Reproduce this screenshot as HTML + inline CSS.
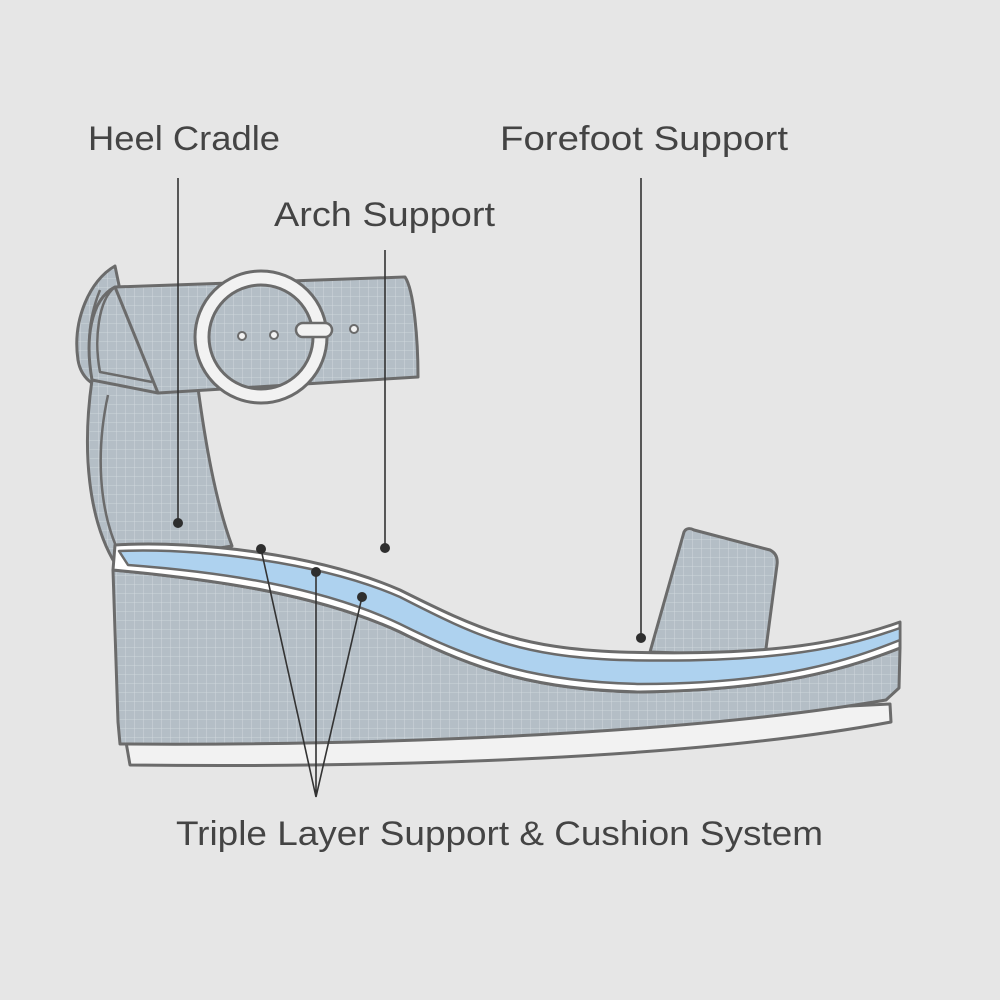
<!DOCTYPE html>
<html><head><meta charset="utf-8"><style>html,body{margin:0;padding:0;background:#e6e6e6}svg{display:block}</style></head>
<body>
<svg width="1000" height="1000" viewBox="0 0 1000 1000" xmlns="http://www.w3.org/2000/svg">
<defs>
<pattern id="g" width="9" height="9" patternUnits="userSpaceOnUse">
<rect width="9" height="9" fill="#b4bec6"/>
<path d="M9 0V9M0 9H9" stroke="#d6dde2" stroke-width="0.8" fill="none"/>
</pattern>
</defs>
<rect width="1000" height="1000" fill="#e6e6e6"/>
<g stroke="#6b6b6b" stroke-width="3" stroke-linejoin="round">
<path d="M115,266 C90,280 72,320 78,360 C80,372 86,380 95,385 L150,390 L120,290 Z" fill="url(#g)"/>
<path d="M100,290 C88,320 86,350 95,378" fill="none" stroke-width="2.5"/>
<path d="M92,380 C82,450 88,520 116,565 L232,546 C215,500 205,440 198,388 Z" fill="url(#g)"/>
<path d="M108,395 C96,450 98,510 120,555" fill="none" stroke-width="2.5"/>
<path d="M115,287 L405,277 C414,290 418,340 418,377 L158,393 L92,380 C85,340 90,300 115,287 Z" fill="url(#g)"/>
<path d="M115,287 L158,393" fill="none"/>
<path d="M115,287 C98,300 94,340 100,372 L152,382" fill="none" stroke-width="2.5"/>
<path fill-rule="evenodd" fill="#f2f2f2" d="M195,337 a66,66 0 1,0 132,0 a66,66 0 1,0 -132,0 Z M209,337 a52,52 0 1,1 104,0 a52,52 0 1,1 -104,0 Z"/>
<rect x="296" y="323" width="36" height="14" rx="7" fill="#f2f2f2" stroke-width="2.5"/>
<g fill="#f2f2f2" stroke-width="2"><circle cx="242" cy="336" r="4"/><circle cx="274" cy="335" r="4"/><circle cx="354" cy="329" r="4"/></g>
<path d="M684,532 C686,528 690,528 694,530 L770,550 C776,553 778,558 777,565 L765,656 L650,652 Z" fill="url(#g)"/>
<path d="M126,742 L890,704 L891,722 C700,758 400,768 130,765 Z" fill="#f2f2f2"/>
<path d="M113,570 C220,580 320,595 400,632 C480,672 540,690 640,692 C780,690 850,668 900,648 L899,688 L886,700 C700,732 400,746 120,744 L118,722 Z" fill="url(#g)"/>
<path d="M115,545 C200,540 320,555 400,590 C480,630 520,648 620,652 C780,657 850,640 900,622 L900,648 C850,668 780,690 640,692 C540,690 480,672 400,632 C320,595 220,580 113,570 Z" fill="#ffffff"/>
<path d="M119,551 C200,548 320,562 400,597 C480,638 520,656 620,660 C780,664 850,646 900,628 L900,640 C850,660 780,684 640,684 C540,682 480,664 400,624 C320,586 220,572 128,565 Z" fill="#aed2ef" stroke-width="2.5"/>
</g>
<g stroke="#333" stroke-width="1.6" fill="none">
<path d="M178,178V523"/><path d="M385,250V548"/><path d="M641,178V638"/>
<path d="M316,797L261,549M316,797V572M316,797L362,597"/>
</g>
<g fill="#2e2e2e">
<circle cx="178" cy="523" r="5"/><circle cx="385" cy="548" r="5"/><circle cx="641" cy="638" r="5"/>
<circle cx="261" cy="549" r="5"/><circle cx="316" cy="572" r="5"/><circle cx="362" cy="597" r="5"/>
</g>
<g font-family="Liberation Sans, sans-serif" font-size="34" fill="#444">
<text x="88" y="150" textLength="192" lengthAdjust="spacingAndGlyphs">Heel Cradle</text>
<text x="500" y="150" textLength="288" lengthAdjust="spacingAndGlyphs">Forefoot Support</text>
<text x="274" y="226" textLength="221" lengthAdjust="spacingAndGlyphs">Arch Support</text>
<text x="176" y="845" textLength="647" lengthAdjust="spacingAndGlyphs">Triple Layer Support &amp; Cushion System</text>
</g>
</svg>
</body></html>
